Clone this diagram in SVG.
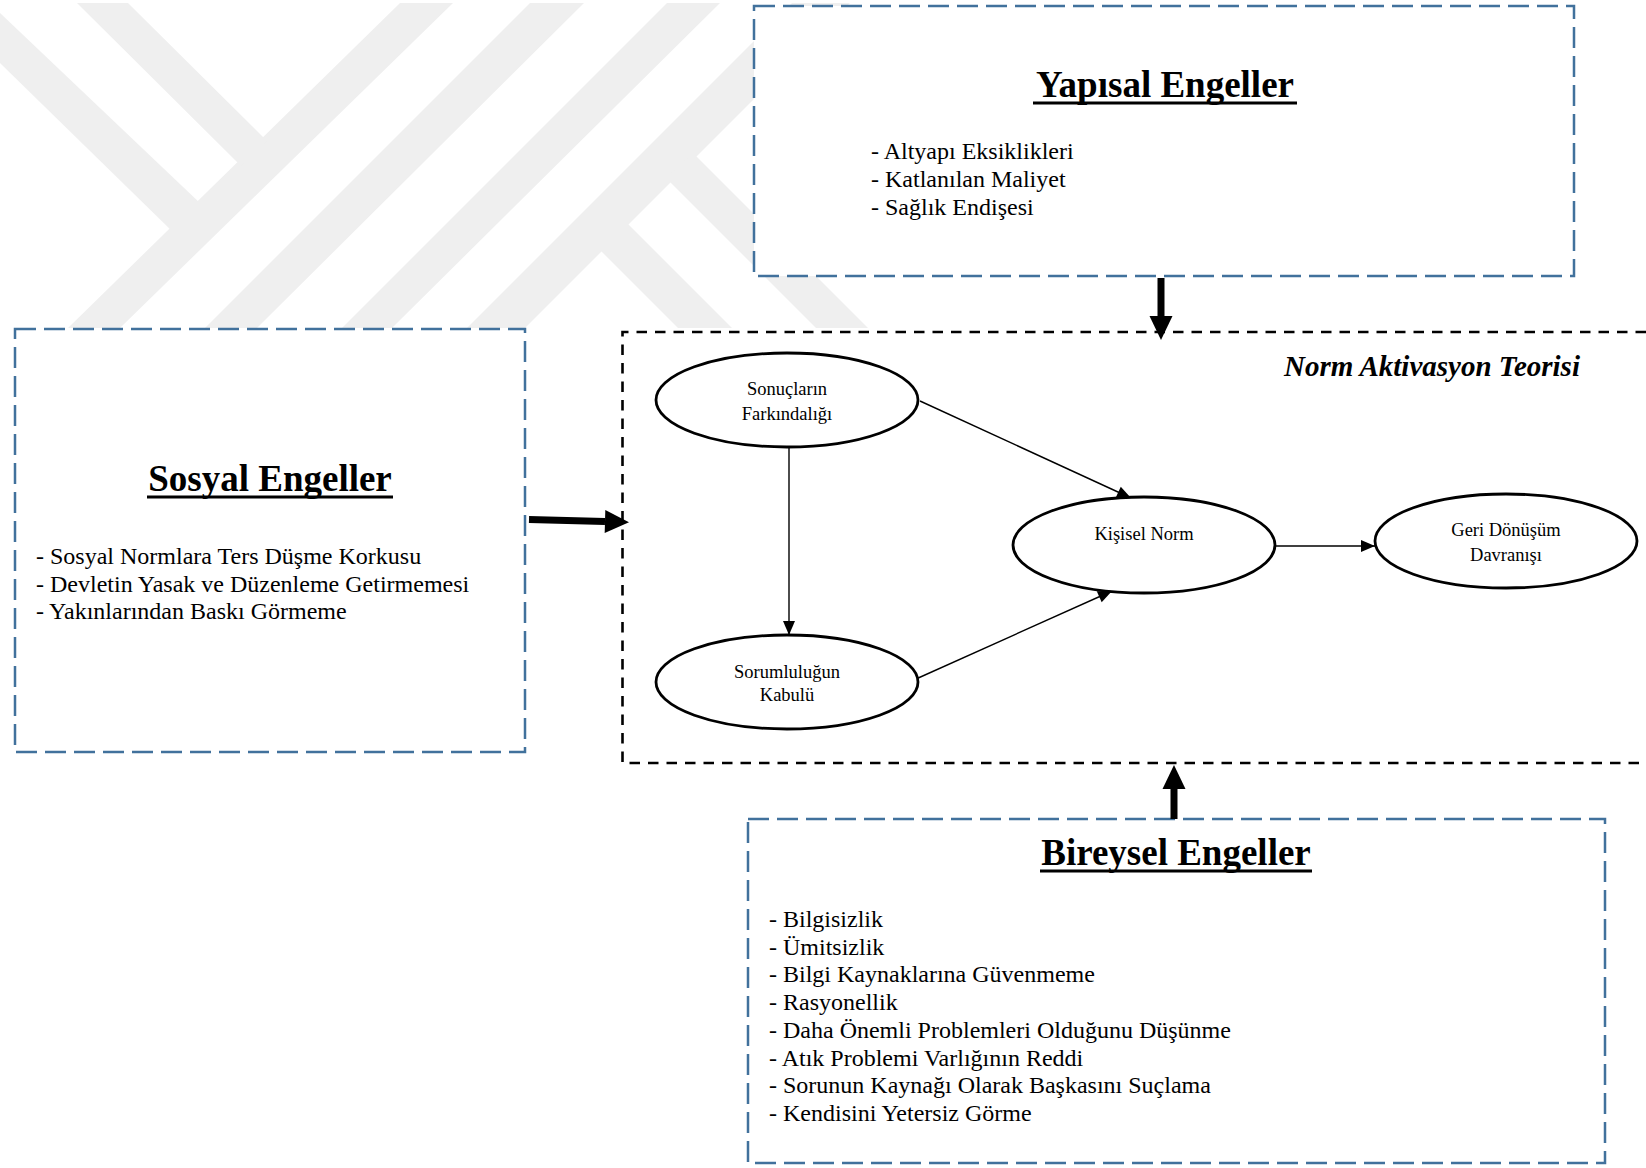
<svg xmlns="http://www.w3.org/2000/svg" width="1646" height="1168" viewBox="0 0 1646 1168">
<defs>
<style>
.wm{fill:#EFEFEF}
.bbox{fill:#fff;stroke:#41719C;stroke-width:2.5;stroke-dasharray:21 8}
.nat{fill:none;stroke:#000;stroke-width:2.6;stroke-dasharray:10.5 8}
text{font-family:'Liberation Serif','Times New Roman',serif;fill:#000}
.title{font-size:37px;font-weight:bold;text-anchor:middle}
.item{font-size:24px}
.ul{stroke:#000;stroke-width:3}
.ell{fill:#fff;stroke:#000;stroke-width:2.8}
.lbl{font-size:18.5px;text-anchor:middle}
.nat-title{font-size:29px;font-weight:bold;font-style:italic}
.thin{fill:none;stroke:#000;stroke-width:1.4;marker-end:url(#ahThin)}
.thick{fill:none;stroke:#000;stroke-width:7;marker-end:url(#ahThick)}
</style>
<marker id="ahThin" markerUnits="userSpaceOnUse" markerWidth="14" markerHeight="12" refX="14" refY="6" orient="auto" overflow="visible"><path d="M0,0 L14,6 L0,12 Z" fill="#000"/></marker>
<marker id="ahThick" markerUnits="userSpaceOnUse" markerWidth="24" markerHeight="23" refX="0" refY="11.5" orient="auto" overflow="visible"><path d="M0,0 L24,11.5 L0,23 Z" fill="#000"/></marker>
</defs>
<rect width="1646" height="1168" fill="#fff"/>
<g id="watermark">
<polygon class="wm" points="400,3 453,3 120,328 68,328"/>
<polygon class="wm" points="77,3 128,3 267,141 241,166"/>
<polygon class="wm" points="0,13 0,63 174,233 202,205"/>
<polygon class="wm" points="530,3 584,3 257,328 205,328"/>
<polygon class="wm" points="667,3 720,3 392,328 342,328"/>
<polygon class="wm" points="792,3 850,3 525,328 467,328"/>
<polygon class="wm" points="693,153 868,328 816,328 666,178"/>
<polygon class="wm" points="623,219 732,328 678,328 596,246"/>
</g>
<g id="yapisal">
<rect class="bbox" x="754" y="6" width="820" height="270"/>
<text class="title" x="1165" y="97">Yapısal Engeller</text>
<line class="ul" x1="1033" y1="103" x2="1297" y2="103"/>
<text class="item" x="871" y="159">- Altyapı Eksiklikleri</text>
<text class="item" x="871" y="187">- Katlanılan Maliyet</text>
<text class="item" x="871" y="215">- Sağlık Endişesi</text>
</g>
<g id="sosyal">
<rect class="bbox" x="15" y="329" width="510" height="423"/>
<text class="title" x="270" y="491">Sosyal Engeller</text>
<line class="ul" x1="147" y1="497" x2="393" y2="497"/>
<text class="item" x="36" y="564">- Sosyal Normlara Ters Düşme Korkusu</text>
<text class="item" x="36" y="591.5">- Devletin Yasak ve Düzenleme Getirmemesi</text>
<text class="item" x="36" y="619">- Yakınlarından Baskı Görmeme</text>
</g>
<g id="bireysel">
<rect class="bbox" x="748" y="819" width="857" height="344"/>
<text class="title" x="1176" y="865">Bireysel Engeller</text>
<line class="ul" x1="1040" y1="871" x2="1312" y2="871"/>
<text class="item" x="769" y="927">- Bilgisizlik</text>
<text class="item" x="769" y="954.7">- Ümitsizlik</text>
<text class="item" x="769" y="982.4">- Bilgi Kaynaklarına Güvenmeme</text>
<text class="item" x="769" y="1010.1">- Rasyonellik</text>
<text class="item" x="769" y="1037.8">- Daha Önemli Problemleri Olduğunu Düşünme</text>
<text class="item" x="769" y="1065.5">- Atık Problemi Varlığının Reddi</text>
<text class="item" x="769" y="1093.2">- Sorunun Kaynağı Olarak Başkasını Suçlama</text>
<text class="item" x="769" y="1120.9">- Kendisini Yetersiz Görme</text>
</g>
<g id="norm-aktivasyon">
<path class="nat" d="M1646,332 H622.5 V763 H1646"/>
<text class="nat-title" x="1284" y="376">Norm Aktivasyon Teorisi</text>
</g>
<g id="connectors">
<path class="thick" d="M1161,278 V316"/>
<path class="thick" d="M529,519.5 L605,521.5"/>
<path class="thick" d="M1174,819 V789"/>
<path class="thin" d="M920,401 L1131,498"/>
<path class="thin" d="M789,448 V635"/>
<path class="thin" d="M916,679 L1112,591"/>
<path class="thin" d="M1276,546 H1375"/>
</g>
<g id="sonuclarin-farkindaligi">
<ellipse class="ell" cx="787" cy="400" rx="131" ry="47"/>
<text class="lbl" x="787" y="395">Sonuçların</text>
<text class="lbl" x="787" y="420">Farkındalığı</text>
</g>
<g id="sorumlulugun-kabulu">
<ellipse class="ell" cx="787" cy="682" rx="131" ry="47"/>
<text class="lbl" x="787" y="678">Sorumluluğun</text>
<text class="lbl" x="787" y="701">Kabulü</text>
</g>
<g id="kisisel-norm">
<ellipse class="ell" cx="1144" cy="545" rx="131" ry="48"/>
<text class="lbl" x="1144" y="540">Kişisel Norm</text>
</g>
<g id="geri-donusum">
<ellipse class="ell" cx="1506" cy="541" rx="131" ry="47"/>
<text class="lbl" x="1506" y="536">Geri Dönüşüm</text>
<text class="lbl" x="1506" y="561">Davranışı</text>
</g>
</svg>
